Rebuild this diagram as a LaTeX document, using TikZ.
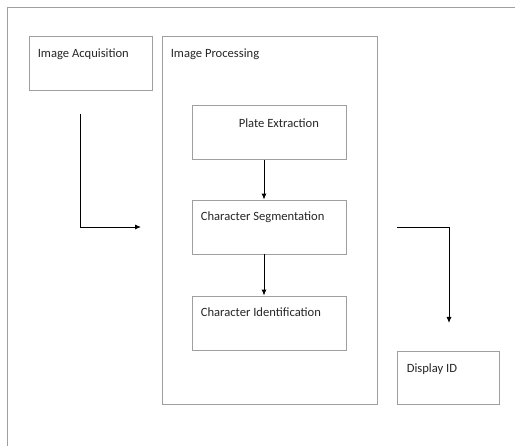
\documentclass[tikz,border=0pt]{standalone}
\usepackage{fontspec}
\setmainfont{Carlito}
\usetikzlibrary{arrows.meta, positioning}

\tikzset{
	blockbox/.style={draw=gray!75, line width=0.8pt, minimum width=#1, inner sep=0pt},
	blocktext/.style={font=\fontsize{12.6}{14}\selectfont, text=black!85, inner sep=0pt, anchor=base west},
	flowarrow/.style={draw=black, line width=0.9pt, -{Latex[length=6pt,width=5pt]}}
}

\begin{document}
\begin{tikzpicture}[x=1pt, y=-1pt]
			\useasboundingbox (0,0) rectangle (515,446);
			% 外框
			\draw[gray!75, line width=0.8pt] (515,7) -- (7,7) -- (7,446);
			% 外部方框
			\node[blockbox=123pt, minimum height=54pt] (acq) at (90.5,63) {};
			\node[blockbox=215pt, minimum height=368pt] (proc) at (269.5,220) {};
			\node[blockbox=102pt, minimum height=53pt] (disp) at (448,377.5) {};
			\node[blocktext] (acqtext) at ([shift={(9,22)}]acq.north west) {Image Acquisition};
			\node[blocktext] (proctext) at ([shift={(9,22)}]proc.north west) {Image Processing};
			\node[blocktext] (disptext) at ([shift={(10,22)}]disp.north west) {Display ID};
			% 内部方框
			\foreach \name/\y in {plate/132.5, seg/227, ident/323} {
				\node[blockbox=154pt, minimum height=54pt] (\name) at (269,\y) {};
			}
			\node[blocktext] (platetext) at ([shift={(47,22)}]plate.north west) {Plate Extraction};
			\node[blocktext] (segtext) at ([shift={(9,21)}]seg.north west) {Character Segmentation};
			\node[blocktext] (identtext) at ([shift={(9,21)}]ident.north west) {Character Identification};
			% 箭头
			\coordinate (acqout) at (80,114);
			\coordinate (procin) at (141,227);
			\coordinate (procout) at (397,227);
			\coordinate (dispin) at (449,323);
			\draw[flowarrow] (acqout) |- (procin);
			\draw[flowarrow] (procout) -| (dispin);
			\draw[flowarrow] ([xshift=-5pt]plate.south) -- ([xshift=-5pt]seg.north);
			\draw[flowarrow] ([xshift=-5pt]seg.south) -- ([xshift=-5pt]ident.north);
		\end{tikzpicture}
\end{document}
